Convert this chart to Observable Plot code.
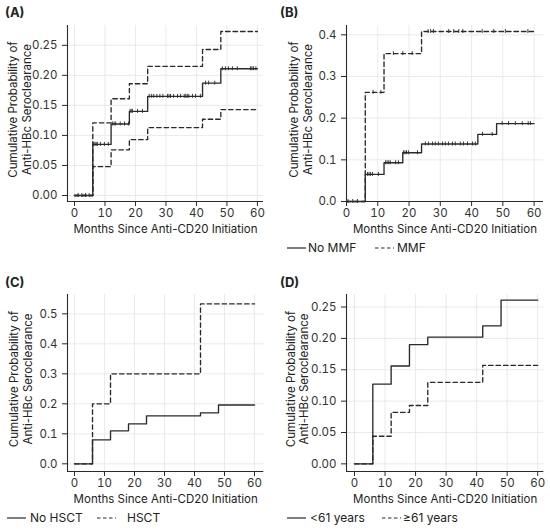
<!DOCTYPE html>
<html>
<head>
<meta charset="utf-8">
<script src="https://cdn.jsdelivr.net/npm/d3@7"></script>
<script src="https://cdn.jsdelivr.net/npm/@observablehq/plot@0.6"></script>
<style>
  body { margin: 0; background: #fff; font-family: Inter, "Liberation Sans", Arial, sans-serif; color: #222; }
  #fig { position: relative; width: 550px; height: 530px; overflow: hidden; }
  .panel { position: absolute; }
  .plabel { position: absolute; font-weight: 700; font-size: 13px; line-height: 13px; }
  .lg { position: absolute; font-size: 12px; line-height: 14px; white-space: nowrap; }
  .lgline { position: absolute; }
</style>
</head>
<body>
<div id="fig"></div>
<script>
// ---------- DATA ----------
const stepMonths = [0, 6, 12, 18, 24, 42, 48, 60];
const xTickValues = [0, 10, 20, 30, 40, 50, 60];
const xLabel = "Months Since Anti-CD20 Initiation";
const yLabel = "Cumulative Probability of\nAnti-HBc Seroclearance";

// Panel A: overall estimate with 95% CI
const A_est   = [0, 0.085, 0.119, 0.140, 0.165, 0.187, 0.211, 0.211];
const A_upper = [0, 0.121, 0.161, 0.186, 0.215, 0.243, 0.273, 0.273];
const A_lower = [0, 0.048, 0.076, 0.093, 0.113, 0.127, 0.143, 0.143];
const A_censor = [1.2, 2.4, 3.6, 4.8, 6.3, 6.7, 7.1, 7.5, 8.5, 9.8, 11.1,
  12.5, 13, 13.5, 15, 16.4, 17.7, 18.2, 18.6, 19, 20.7, 22.3,
  24.5, 25.3, 26, 27, 28, 29, 30.5, 31, 31.5, 32.5, 33.8, 34.8, 36, 36.5, 37, 37.5, 38.7, 39.7, 41.3,
  43, 44, 46, 48.5, 49.5, 50.5, 51.8, 53.4, 57.7, 58.2, 58.7, 59.5];
const A_yTicks = [0, 0.05, 0.10, 0.15, 0.20, 0.25];

// Panel B: MMF
const B_names = ["No MMF", "MMF"];
const B_noMMF = [0, 0.065, 0.093, 0.117, 0.138, 0.161, 0.187, 0.187];
const B_MMF   = [0, 0.262, 0.355, 0.355, 0.408, 0.408, 0.408, 0.408];
const B_noMMF_censor = [0.5, 2, 3.5, 6.7, 7.2, 7.7, 8.3, 10.2, 12.5, 13, 13.5, 14, 15.7, 16.6,
  18.2, 18.7, 19.2, 19.8, 22.7, 25.2, 26.2, 27.5, 28.4, 29.4, 30.7, 31.6, 32.6, 33.9, 34.8,
  36.4, 37.4, 38.7, 40.3, 41.2, 43.5, 46.6, 49.8, 51.8, 54, 56.2, 58.1, 58.8];
const B_MMF_censor = [8.5, 11, 15, 18, 21, 26.1, 26.9, 27.8, 32.7, 34.3, 35.9, 37.2, 43.4, 47.1, 50.8, 58];
const B_yTicks = [0, 0.1, 0.2, 0.3, 0.4];

// Panel C: HSCT
const C_names = ["No HSCT", "HSCT"];
const C_noHSCT = [0, 0.080, 0.110, 0.133, 0.160, 0.170, 0.196, 0.196];
const C_HSCT   = [0, 0.200, 0.300, 0.300, 0.300, 0.533, 0.533, 0.533];
const C_yTicks = [0, 0.1, 0.2, 0.3, 0.4, 0.5];

// Panel D: age
const D_names = ["<61 years", "≥61 years"];
const D_young = [0, 0.127, 0.156, 0.190, 0.202, 0.220, 0.261, 0.261];
const D_old   = [0, 0.044, 0.082, 0.093, 0.130, 0.157, 0.157, 0.157];
const D_yTicks = [0, 0.05, 0.10, 0.15, 0.20, 0.25];

// ---------- helpers ----------
const INK = "#2a2a2a";
const FONT = "Inter, 'Liberation Sans', Arial, sans-serif";
const toSeries = (vals) => stepMonths.map((t, i) => ({t, s: vals[i]}));
const stepAt = (vals, t) => { let v = vals[0]; stepMonths.forEach((m, i) => { if (m <= t) v = vals[i]; }); return v; };
const toCensor = (times, vals) => times.map(t => ({t, s: stepAt(vals, t)}));

function makePanel(o) {
  const marks = [
    Plot.gridX(xTickValues, {stroke: "#e4e4e4", strokeOpacity: 1, strokeWidth: 0.8}),
    Plot.gridY(o.yTicks, {stroke: "#e4e4e4", strokeOpacity: 1, strokeWidth: 0.8}),
    Plot.axisX(xTickValues, {tickSize: 5, tickPadding: 2, fontSize: 11.5, label: null, stroke: INK}),
    Plot.axisY(o.yTicks, {tickSize: 5, tickPadding: 5, fontSize: 11.5, label: null, tickFormat: d3.format(o.fmt), stroke: INK}),
    Plot.ruleX([o.xDomain[0]], {stroke: INK, strokeWidth: 1.1}),
    Plot.ruleY([o.yDomain[0]], {stroke: INK, strokeWidth: 1.1})
  ];
  for (const s of o.series) {
    marks.push(Plot.line(toSeries(s.vals), {x: "t", y: "s", curve: "step-after", stroke: INK,
      strokeWidth: 1.35, strokeDasharray: s.dashed ? "4.5,3" : null}));
    if (s.censor) {
      marks.push(Plot.ruleX(toCensor(s.censor, s.vals), {x: "t", y1: "s", y2: "s", insetTop: -2, insetBottom: -2,
        stroke: INK, strokeWidth: 0.9}));
    }
  }
  marks.push(Plot.text([yLabel], {frameAnchor: "left", rotate: -90, dx: -o.yLabDx, dy: -4, lineHeight: 1.2,
    fontSize: 11.5, fill: "#222", textAnchor: "middle", lineAnchor: "middle"}));
  marks.push(Plot.text([xLabel], {frameAnchor: "bottom", dy: 28, fontSize: 11.5, fill: "#222", lineAnchor: "middle"}));

  const svg = Plot.plot({
    width: 275, height: 245,
    marginLeft: o.mL, marginRight: o.mR, marginTop: o.mT, marginBottom: 245 - 201,
    style: {fontFamily: FONT, color: "#333", background: "transparent", overflow: "visible"},
    x: {domain: o.xDomain},
    y: {domain: o.yDomain},
    marks
  });
  const div = document.createElement("div");
  div.className = "panel";
  div.style.left = o.left + "px";
  div.style.top = o.top + "px";
  div.appendChild(svg);
  const lab = document.createElement("div");
  lab.className = "plabel";
  lab.textContent = o.letter;
  lab.style.left = (o.left + 5) + "px";
  lab.style.top = (o.top + 6) + "px";
  const fig = document.getElementById("fig");
  fig.appendChild(div);
  fig.appendChild(lab);
  if (o.legend) {
    o.legend.forEach((it) => {
      const ln = document.createElementNS("http://www.w3.org/2000/svg", "svg");
      ln.setAttribute("width", 19); ln.setAttribute("height", 4);
      ln.setAttribute("class", "lgline");
      ln.style.left = it.lx + "px"; ln.style.top = (o.legendY - 2) + "px";
      ln.innerHTML = `<line x1="0" y1="2" x2="19" y2="2" stroke="${INK}" stroke-width="1.2" ${it.dashed ? 'stroke-dasharray="3.5,2.5"' : ''}/>`;
      fig.appendChild(ln);
      const tx = document.createElement("div");
      tx.className = "lg";
      tx.textContent = it.name;
      tx.style.left = it.tx + "px"; tx.style.top = (o.legendY - 7.5) + "px";
      fig.appendChild(tx);
    });
  }
}

makePanel({letter: "(A)", left: 0, top: 0, mL: 67, mR: 12, mT: 25, yLabDx: 48,
  xDomain: [-2.3, 62], yDomain: [-0.01, 0.283], yTicks: A_yTicks, fmt: ".2f",
  series: [
    {vals: A_est, censor: A_censor},
    {vals: A_upper, dashed: true},
    {vals: A_lower, dashed: true}
  ]});

makePanel({letter: "(B)", left: 275, top: 0, mL: 71, mR: 7, mT: 25, yLabDx: 46,
  xDomain: [0, 63], yDomain: [0, 0.4224], yTicks: B_yTicks, fmt: ".1f",
  series: [
    {vals: B_noMMF, censor: B_noMMF_censor},
    {vals: B_MMF, dashed: true, censor: B_MMF_censor}
  ],
  legendY: 248,
  legend: [
    {name: B_names[0], lx: 287, tx: 308},
    {name: B_names[1], lx: 375, tx: 397, dashed: true}
  ]});

makePanel({letter: "(C)", left: 0, top: 270, mL: 67, mR: 11.7, mT: 24, yLabDx: 47,
  xDomain: [-2.34, 63.1], yDomain: [-0.0256, 0.5644], yTicks: C_yTicks, fmt: ".1f",
  series: [
    {vals: C_noHSCT},
    {vals: C_HSCT, dashed: true}
  ],
  legendY: 518,
  legend: [
    {name: C_names[0], lx: 7, tx: 30},
    {name: C_names[1], lx: 97, tx: 127, dashed: true}
  ]});

makePanel({letter: "(D)", left: 275, top: 270, mL: 71, mR: 6.7, mT: 24, yLabDx: 49.5,
  xDomain: [-2.62, 62], yDomain: [-0.0122, 0.270], yTicks: D_yTicks, fmt: ".2f",
  series: [
    {vals: D_young},
    {vals: D_old, dashed: true}
  ],
  legendY: 518,
  legend: [
    {name: D_names[0], lx: 287, tx: 310},
    {name: D_names[1], lx: 382, tx: 403, dashed: true}
  ]});
</script>
</body>
</html>
